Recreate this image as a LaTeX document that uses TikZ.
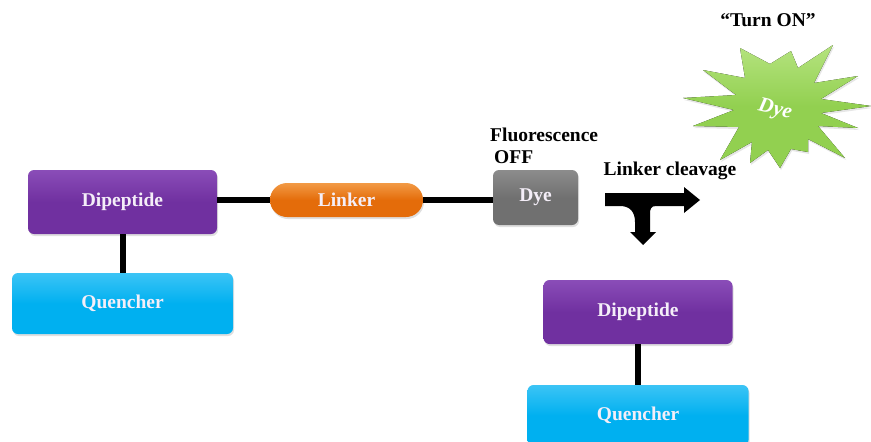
\documentclass[tikz,border=0pt]{standalone}
\usepackage{fontspec}
\setmainfont{Liberation Serif}
\usetikzlibrary{shadows}
\definecolor{purp}{HTML}{7030A0}
\definecolor{purpT}{HTML}{8A4DB8}
\definecolor{cyanB}{HTML}{00B0F0}
\definecolor{cyanT}{HTML}{3CC4F5}
\definecolor{orng}{HTML}{E46C0A}
\definecolor{orngT}{HTML}{F29A45}
\definecolor{grayB}{HTML}{707070}
\definecolor{grayT}{HTML}{8C8C8C}
\definecolor{grn}{HTML}{92D050}
\definecolor{grnT}{HTML}{B5E37F}
\definecolor{txtw}{HTML}{F4EEF8}
\tikzset{
  box/.style={rounded corners=6pt, inner sep=0pt, text=txtw,
    font=\fontsize{19.5}{22}\selectfont\bfseries,
    drop shadow={shadow xshift=1pt,shadow yshift=-2pt,opacity=0.25}},
  dipbox/.style={box, minimum width=189pt, minimum height=64pt, top color=purpT, bottom color=purp, middle color=purp},
  qubox/.style={box, minimum width=221pt, minimum height=61pt, top color=cyanT, bottom color=cyanB, middle color=cyanB},
  link/.style={line width=6pt},
  lbl/.style={font=\fontsize{19.5}{22}\selectfont\bfseries, inner sep=0pt}
}
\begin{document}
\begin{tikzpicture}[x=1pt,y=-1pt]
\useasboundingbox (0,0) rectangle (871,442);
% left molecule
\node[dipbox] (dipL) at (122.5,202) {Dipeptide};
\node[qubox] (quL) at (122.5,303.5) {Quencher};
\node[box, rounded corners=17pt, minimum width=153pt, minimum height=34pt, top color=orngT, bottom color=orng, middle color=orng] (linker) at (346.5,200) {Linker};
\node[box, minimum width=85pt, minimum height=55pt, top color=grayT, bottom color=grayB, middle color=grayB] (dye) at (535.5,197.5) {Dye};
\draw[link] (dipL.south) -- (quL.north);
\draw[link] (dipL.east |- linker.west) -- (linker.west);
\draw[link] (linker.east) -- (dye.west |- linker.east);
% labels
\node[lbl, anchor=west] (fl) at (490,135) {Fluorescence};
\node[lbl, anchor=west] (off) at (494,157) {OFF};
\node[lbl] (cleave) at (670,171) {Linker cleavage};
\node[lbl] (turnon) at (768,20) {“Turn ON”};
% split arrow
\fill[black] (605,193) -- (684,193) -- (684,187) -- (700,200) -- (684,213) -- (684,206)
  -- (656,206) .. controls (651,206) and (650,209) .. (650,214)
  -- (650,232) -- (656,232) -- (643,245) -- (630,232) -- (635,232) -- (635,222)
  .. controls (635,212) and (630,206) .. (620,206) -- (605,206) -- cycle;
% star
\fill[top color=grnT, bottom color=grn, middle color=grn,
      drop shadow={shadow xshift=1pt,shadow yshift=-2pt,opacity=0.2}]
 (740,48) -- (770,64) -- (791,51) -- (798,68) -- (833,45) -- (814,83)
 -- (858,76) -- (821,99) -- (871,106) -- (821,113) -- (858,128) -- (818,126)
 -- (845,158) -- (808,139) -- (808,152) -- (791,149) -- (780,168) -- (768,150)
 -- (750,163) -- (752,142) -- (720,160) -- (739,127) -- (693,126) -- (734,110)
 -- (683,98) -- (736,95) -- (703,70) -- (745,78) -- cycle;
\node[font=\fontsize{21}{24}\selectfont\bfseries\itshape, text=white, rotate=-13] (sdye) at (775,110) {Dye};
% right products
\node[dipbox] (dipR) at (638,312) {Dipeptide};
\node[qubox, minimum height=61pt] (quR) at (638,415.5) {Quencher};
\draw[link] (dipR.south) -- (quR.north);
\end{tikzpicture}
\end{document}
